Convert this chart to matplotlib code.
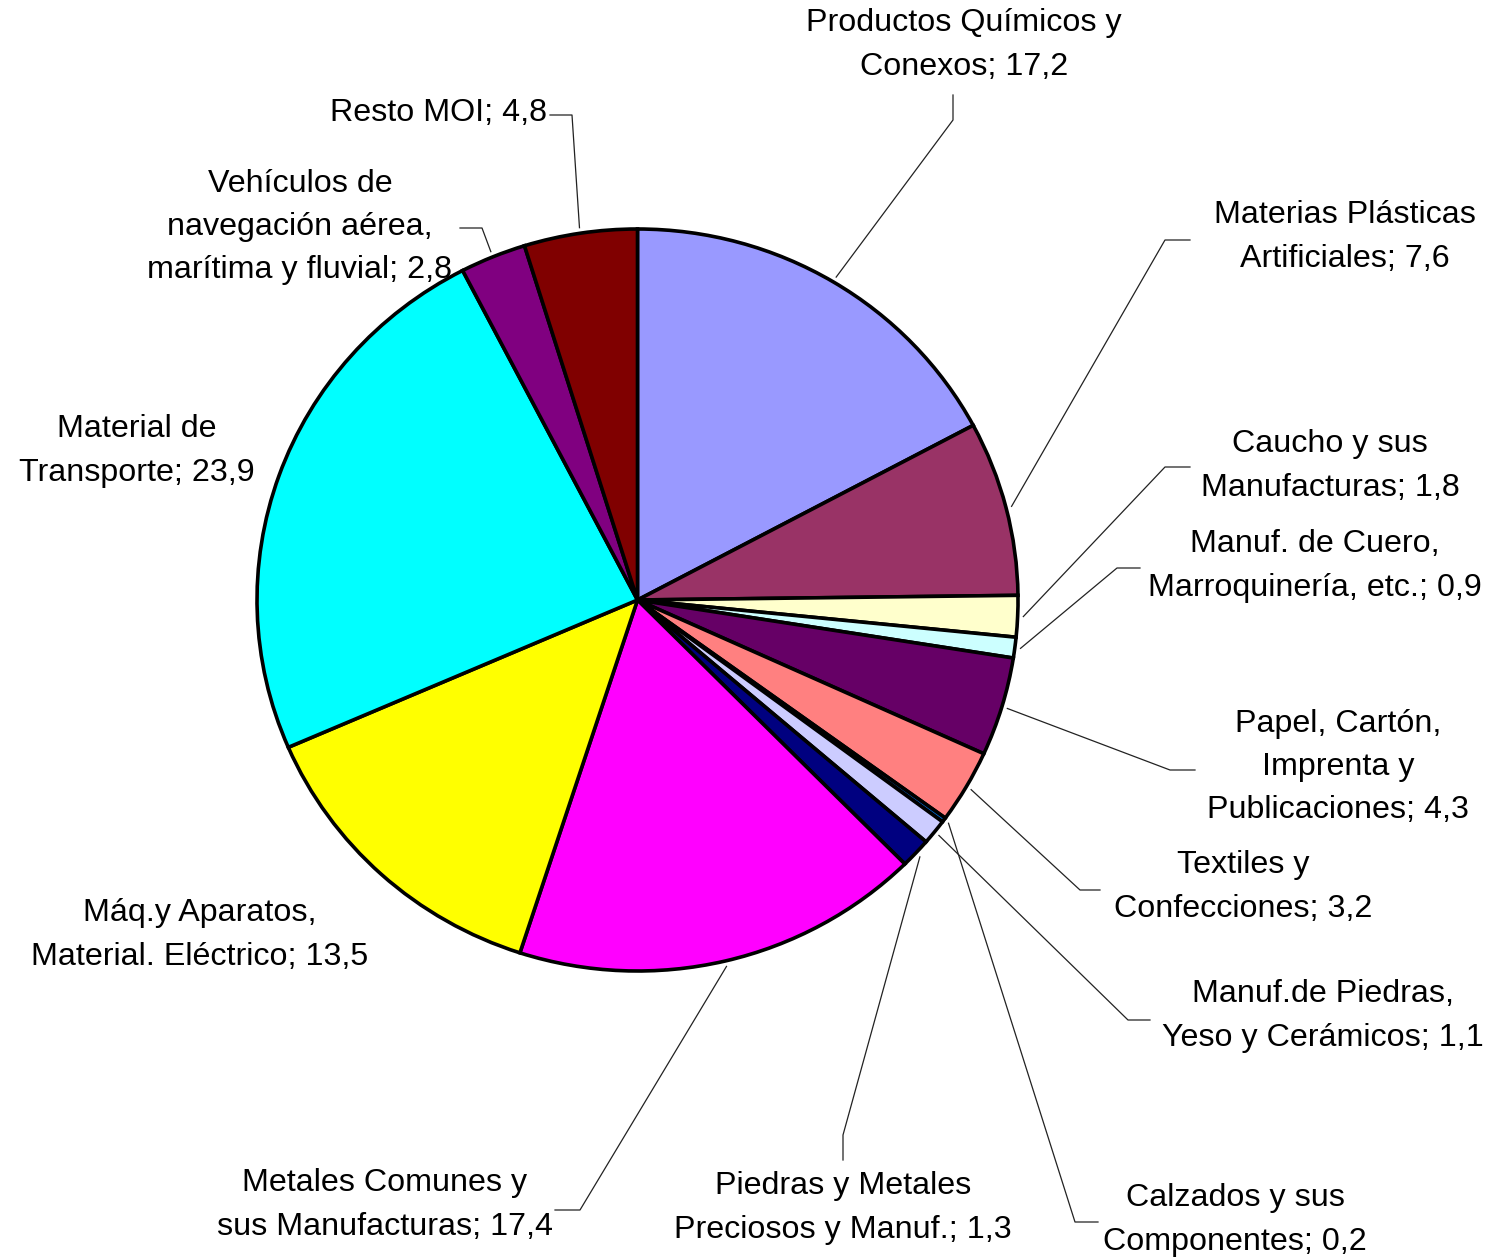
import numpy as np
import matplotlib.pyplot as plt

plt.rcParams['font.family'] = ['Liberation Sans', 'DejaVu Sans']

# data, clockwise from 12 o'clock
labels = ['Productos Químicos y\nConexos; 17,2',
          'Materias Plásticas\nArtificiales; 7,6',
          'Caucho y sus\nManufacturas; 1,8',
          'Manuf. de Cuero,\nMarroquinería, etc.; 0,9',
          'Papel, Cartón,\nImprenta y\nPublicaciones; 4,3',
          'Textiles y\nConfecciones; 3,2',
          'Calzados y sus\nComponentes; 0,2',
          'Manuf.de Piedras,\nYeso y Cerámicos; 1,1',
          'Piedras y Metales\nPreciosos y Manuf.; 1,3',
          'Metales Comunes y\nsus Manufacturas; 17,4',
          'Máq.y Aparatos,\nMaterial. Eléctrico; 13,5',
          'Material de\nTransporte; 23,9',
          'Vehículos de\nnavegación aérea,\nmarítima y fluvial; 2,8',
          'Resto MOI; 4,8']
values = [17.2, 7.6, 1.8, 0.9, 4.3, 3.2, 0.2, 1.1, 1.3, 17.4, 13.5, 23.9, 2.8, 4.8]
colors = ['#9999FF', '#993366', '#FFFFCC', '#CCFFFF', '#660066', '#FF8080',
          '#0066CC', '#CCCCFF', '#000080', '#FF00FF', '#FFFF00', '#00FFFF',
          '#800080', '#800000']

# layout (pixels): label anchor, alignment, leader elbow and leader end (None = no leader)
W, H = 1499, 1260
cx, cy, rx, ry = 637.5, 600, 380.5, 371
label_pos = [(964, 45, 'center'), (1345, 237, 'center'), (1330, 466, 'center'),
             (1315, 566, 'center'), (1338, 767, 'center'), (1243, 887, 'center'),
             (1235, 1220, 'center'), (1323, 1016, 'center'), (843, 1208, 'center'),
             (385, 1205, 'center'), (200, 935, 'center'), (137, 451, 'center'),
             (300, 227, 'center'), (547, 113, 'right')]
leaders = [((953, 120), (953, 95)), ((1165, 240), (1190, 240)),
           ((1165, 467), (1190, 467)), ((1117, 568), (1140, 568)),
           ((1170, 770), (1195, 770)), ((1080, 890), (1100, 890)),
           ((1075, 1222), (1098, 1222)), ((1128, 1020), (1150, 1020)),
           ((843, 1135), (843, 1160)), ((580, 1210), (555, 1210)),
           None, None,
           ((482, 228), (460, 228)), ((572, 115), (550, 115))]

fig = plt.figure(figsize=(W / 100, H / 100), dpi=100)

# overlay in pixel coords for labels and leader lines
ov = fig.add_axes([0, 0, 1, 1])
ov.set_xlim(0, W)
ov.set_ylim(H, 0)
ov.axis('off')

ax = fig.add_axes([(cx - rx) / W, (H - cy - ry) / H, 2 * rx / W, 2 * ry / H])
ax.pie(values, colors=colors, startangle=90, counterclock=False,
       wedgeprops=dict(edgecolor='black', linewidth=2.6))
ax.set_aspect('auto')
ax.set_xlim(-1, 1)
ax.set_ylim(-1, 1)
ax.axis('off')

cum = np.cumsum([0] + values[:-1])
for i, lab in enumerate(labels):
    x, y, ha = label_pos[i]
    ov.text(x, y, lab, ha=ha, va='center', fontsize=23.2, linespacing=1.58,
            color='black')
    if leaders[i] is None:
        continue
    mid = np.deg2rad(90 - (cum[i] + values[i] / 2) / sum(values) * 360)
    px = cx + rx * 1.015 * np.cos(mid)
    py = cy - ry * 1.015 * np.sin(mid)
    (ex, ey), (tx, ty) = leaders[i]
    ov.plot([px, ex, tx], [py, ey, ty], color='#222222', lw=0.9)

fig.savefig('out.png', dpi=100)
